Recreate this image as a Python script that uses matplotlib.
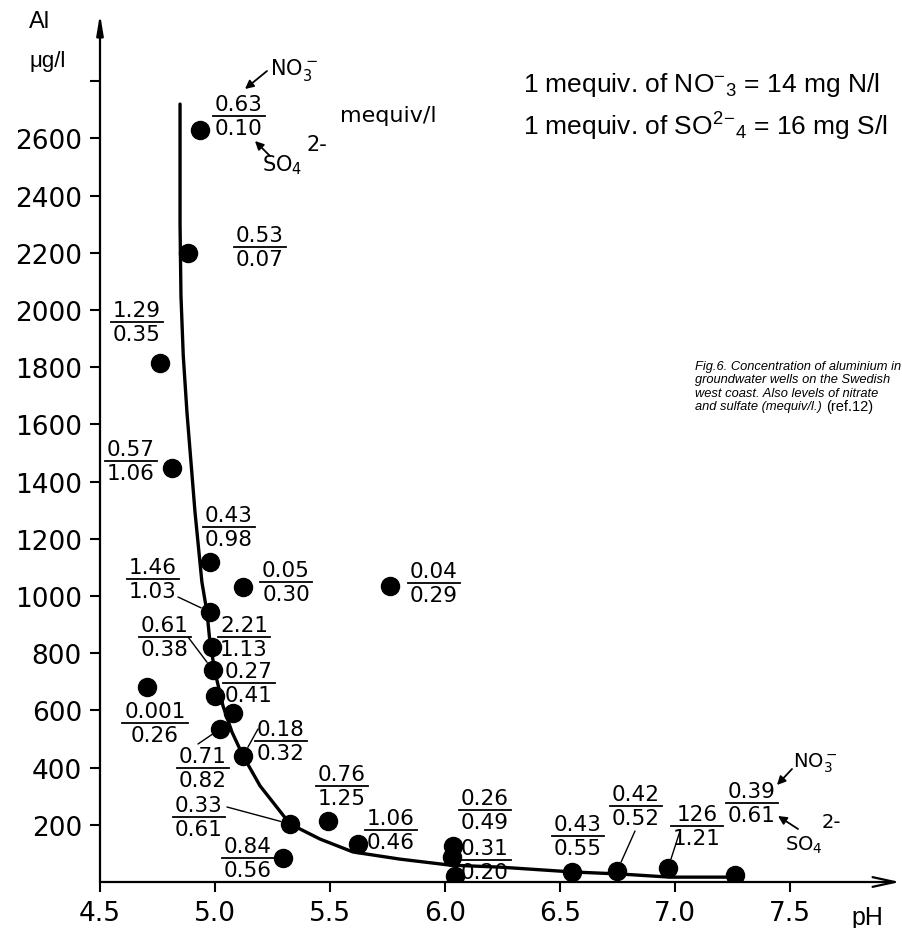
import matplotlib
matplotlib.use('Agg')
import matplotlib.pyplot as plt
from matplotlib.lines import Line2D
from matplotlib.patches import FancyArrowPatch

plt.rcParams['font.family'] = ['DejaVu Sans']
plt.rcParams['mathtext.default'] = 'regular'

# pH, Al (ug/l), nitrate / sulfate (mequiv/l); None = no label
ph = [4.935, 4.883, 4.761, 4.813, 4.978, 5.122, 5.761, 4.978, 4.987, 4.991,
      4.704, 5.000, 5.078, 5.022, 5.122, 5.326, 5.491, 5.622, 5.296, 6.035,
      6.030, 6.043, 6.552, 6.748, 6.970, 7.261]
al = [2630, 2200, 1815, 1448, 1119, 1031, 1035, 944, 822, 741,
      682, 650, 591, 535, 441, 203, 213, 133, 84, 126,
      87, 21, 35, 38, 49, 24]
nitrate = ['0.63', '0.53', '1.29', '0.57', '0.43', '0.05', '0.04', '1.46', '2.21', '0.61',
           '0.001', '0.27', None, '0.71', '0.18', '0.33', '0.76', '1.06', '0.84', '0.26',
           '0.31', None, '0.43', '0.42', '126', '0.39']
sulfate = ['0.10', '0.07', '0.35', '1.06', '0.98', '0.30', '0.29', '1.03', '1.13', '0.38',
           '0.26', '0.41', None, '0.82', '0.32', '0.61', '1.25', '0.46', '0.56', '0.49',
           '0.20', None, '0.55', '0.52', '1.21', '0.61']

# fitted curve
curve_ph = [4.848, 4.848, 4.852, 4.862, 4.878, 4.913, 4.943, 4.965, 4.978, 5.0, 5.035, 5.074,
            5.122, 5.196, 5.326, 5.457, 5.6, 5.804, 6.022, 6.239, 6.557, 6.761, 6.978, 7.27]
curve_al = [2720, 2300, 2050, 1840, 1643, 1294, 1049, 944, 839, 734, 615, 524,
            441, 336, 203, 150, 105, 80, 59, 52, 35, 28, 17, 17]

xticks = [4.5, 5.0, 5.5, 6.0, 6.5, 7.0, 7.5]
yticks = [200, 400, 600, 800, 1000, 1200, 1400, 1600, 1800, 2000, 2200, 2400, 2600, 2800]

# label centre (image pixels) for each point, and leader line starts
label_pos = [(239, 117), (260, 248), (137, 323), (131, 462), (229, 528), (286, 583),
             (434, 584), (153, 580), (244, 638), (165, 638), (155, 724), (249, 684),
             None, (203, 769), (281, 742), (199, 818), (342, 787), (391, 831),
             (248, 859), (485, 811), (485, 861), None, (578, 837), (636, 807),
             (697, 827), (752, 804)]
leaders = {7: (178, 598), 9: (188, 638), 13: (198, 745), 14: (258, 730),
           15: (227, 808), 23: (635, 832), 24: (680, 832)}

W, H = 902, 929
fig = plt.figure(figsize=(W / 100, H / 100), dpi=100)
ax = fig.add_axes([100 / W, 46 / H, 800 / W, 868 / H])
ax.set_xlim(4.5, 4.5 + 800 / 230)
ax.set_ylim(0, 868 / 0.286)
for s in ax.spines.values():
    s.set_visible(False)

ax.annotate('', xy=(1, 0), xytext=(0, 0), xycoords='axes fraction',
            arrowprops=dict(arrowstyle='->,head_length=1.6,head_width=0.35', lw=1.6,
                            color='black', shrinkA=0, shrinkB=0))
ax.annotate('', xy=(0, 1), xytext=(0, 0), xycoords='axes fraction',
            arrowprops=dict(arrowstyle='-|>,head_length=1.2,head_width=0.2', lw=1.6,
                            color='black', shrinkA=0, shrinkB=0))

ax.set_xticks(xticks)
ax.set_xticklabels([f'{t:.1f}' for t in xticks])
ax.set_yticks(yticks)
ax.set_yticklabels([str(t) if t < 2800 else '' for t in yticks])
ax.tick_params(direction='out', length=7, width=1.5, labelsize=19, pad=6)

ax.plot(curve_ph, curve_al, color='black', lw=2.4, solid_capstyle='round', zorder=2)
ax.plot(ph, al, 'o', color='black', markersize=13, zorder=3)


def fx(x):
    return x / W


def fy(y):
    return 1 - y / H


fig.canvas.draw()
r = fig.canvas.get_renderer()
for i, pos in enumerate(label_pos):
    if pos is None:
        continue
    cx, cy = pos
    t1 = fig.text(fx(cx), fy(cy - 2), nitrate[i], ha='center', va='bottom', fontsize=15.5)
    t2 = fig.text(fx(cx), fy(cy + 2), sulfate[i], ha='center', va='top', fontsize=15.5)
    w = max(t1.get_window_extent(r).width, t2.get_window_extent(r).width)
    fig.add_artist(Line2D([fx(cx - w / 2 - 2), fx(cx + w / 2 + 2)], [fy(cy), fy(cy)],
                          transform=fig.transFigure, color='black', lw=1.3))

for i, (sx, sy) in leaders.items():
    ax.annotate('', xy=(ph[i], al[i]), xycoords='data',
                xytext=(fx(sx), fy(sy)), textcoords='figure fraction',
                arrowprops=dict(arrowstyle='-', lw=1.0, color='black', shrinkA=0, shrinkB=7))


def arrow(p0, p1):
    fig.add_artist(FancyArrowPatch((fx(p0[0]), fy(p0[1])), (fx(p1[0]), fy(p1[1])),
                                   transform=fig.transFigure,
                                   arrowstyle='-|>,head_length=5,head_width=2.5',
                                   lw=1.3, color='black', shrinkA=0, shrinkB=0))


# ion annotations
fig.text(fx(270), fy(70), 'NO$_3^-$', fontsize=15, va='center')
arrow((267, 72), (245, 90))
fig.text(fx(262), fy(165), 'SO$_4$', fontsize=15, va='center')
fig.text(fx(306), fy(145), '2-', fontsize=15, va='center')
arrow((270, 157), (255, 142))
fig.text(fx(388), fy(116), 'mequiv/l', fontsize=16, ha='center', va='center')

fig.text(fx(793), fy(763), 'NO$_3^-$', fontsize=14, va='center')
arrow((792, 770), (777, 786))
fig.text(fx(785), fy(845), 'SO$_4$', fontsize=14, va='center')
fig.text(fx(822), fy(823), '2-', fontsize=14, va='center')
arrow((798, 830), (778, 817))

# axis titles
fig.text(fx(40), fy(22), 'Al', fontsize=17, ha='center', va='center', family='Liberation Sans')
fig.text(fx(48), fy(62), 'μg/l', fontsize=16, ha='center', va='center', family='Liberation Sans')
fig.text(fx(867), fy(918), 'pH', fontsize=18, ha='center', va='center', family='Liberation Sans')

# conversion notes and caption
fig.text(fx(523), fy(85), '1 mequiv. of NO$^{-}$$_{3}$ = 14 mg N/l', fontsize=19,
         va='center', family='Liberation Sans')
fig.text(fx(523), fy(127), '1 mequiv. of SO$^{2}$$^{-}$$_{4}$ = 16 mg S/l', fontsize=19,
         va='center', family='Liberation Sans')
caption = ['Fig.6. Concentration of aluminium in',
           'groundwater wells on the Swedish',
           'west coast. Also levels of nitrate',
           'and sulfate (mequiv/l.)']
for k, line in enumerate(caption):
    t = fig.text(fx(695), fy(367 + 13.5 * k), line, fontsize=9.3, style='italic',
                 va='center', family='Liberation Sans')
ext = t.get_window_extent(r)
fig.text(fx(ext.x1 + 4), fy(367 + 13.5 * 3), '(ref.12)', fontsize=10.5, va='center',
         family='Liberation Sans')

fig.savefig('out.png', dpi=100)
